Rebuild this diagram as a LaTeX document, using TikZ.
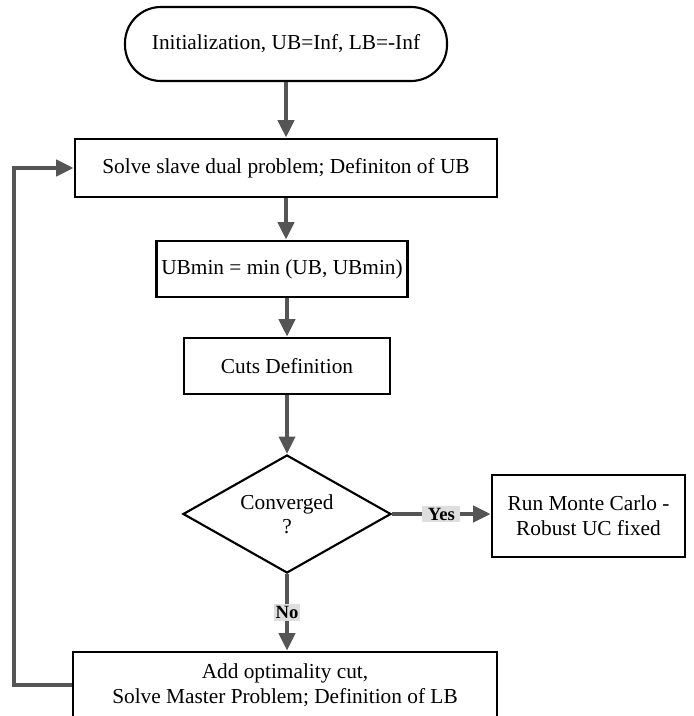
\documentclass[tikz,border=0pt]{standalone}
\usepackage{fontspec}
\setmainfont{Liberation Serif}
\usepackage{tikz}
\usetikzlibrary{shapes.geometric, arrows.meta, positioning}
\tikzstyle{startstop} = [draw, line width=1.6pt, rounded corners=27pt, minimum width=241.5pt, minimum height=55.5pt, font=\fontsize{16}{19}\selectfont]
\tikzstyle{process} = [draw, line width=2.2pt, fill=white, align=center, font=\fontsize{16}{19}\selectfont]
\tikzstyle{decision} = [draw, diamond, aspect=1.76, line width=1.6pt, align=center, inner sep=0pt, minimum width=156pt, minimum height=88.5pt, font=\fontsize{16}{18}\selectfont]
\tikzstyle{arrow} = [line width=2.8pt, draw=arrowgray, -{Triangle[length=13pt, width=12pt]}]
\tikzstyle{answer} = [fill=black!13, inner sep=1.5pt, text=black, font=\bfseries\fontsize{14}{16}\selectfont]
\definecolor{arrowgray}{HTML}{555555}

\begin{document}
\begin{tikzpicture}[x=0.75pt, y=-0.75pt]
        \useasboundingbox[fill=white] (0,0) rectangle (693,716);
        % Boxes
        \node (init) [startstop] at (286,44) {Initialization, UB=Inf, LB=-Inf};
        \node (solve) [process, minimum width=316.5pt, minimum height=43.5pt] at (286,168) {Solve slave dual problem; Definiton of UB};
        \node (ubmin) [process, minimum width=187.5pt, minimum height=42pt] at (282,269) {UBmin = min (UB, UBmin)};
        \node (cuts) [process, minimum width=154.5pt, minimum height=42pt] at (287,366) {Cuts Definition};
        \node (conv) [decision] at (287,514) {Converged\\?};
        \node (mc) [process, minimum width=144.75pt, minimum height=61.5pt] at (588.5,516) {Run Monte Carlo -\\Robust UC fixed};
        \node (master) [process, minimum width=318pt, minimum height=49.5pt] at (285,685) {Add optimality cut,\\Solve Master Problem; Definition of LB};
        \coordinate (back) at (14,687);

        % Arrows
        \draw [arrow] (init.south) -- (init.south |- solve.north);
        \draw [arrow] (solve.south) -- (solve.south |- ubmin.north);
        \draw [arrow] (cuts.north |- ubmin.south) -- (cuts.north);
        \draw [arrow] (cuts.south) -- (conv.north);
        \draw [arrow] (conv.east) -- node [answer, inner xsep=4pt] {Yes} (mc.west |- conv.east);
        \draw [arrow] (conv.south) -- node [answer] {No} (conv.south |- master.north);
        \draw [arrow] (master.west) -- (master.west -| back) |- (solve.west);
\end{tikzpicture}
\end{document}
